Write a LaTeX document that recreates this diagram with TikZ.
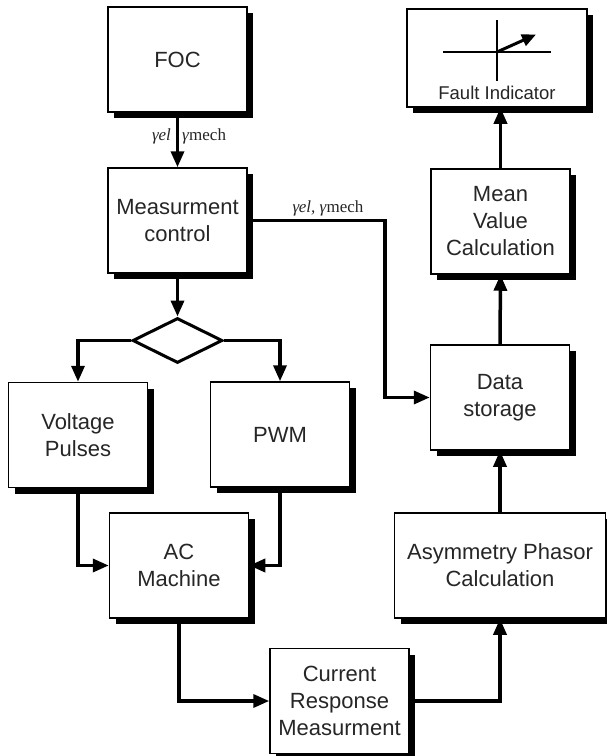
\documentclass[tikz,border=0pt]{standalone}
\usepackage{fontspec}
\setmainfont{Liberation Sans}
\newfontfamily\greekserif{Liberation Serif}
\usetikzlibrary{arrows.meta,shapes.geometric,shadows}

\tikzset{
  block/.style={draw=black, line width=1.5pt, fill=white, rectangle,
    minimum width=139pt, minimum height=105pt, inner sep=2pt,
    align=center, text=black!85, font=\fontsize{22}{27}\selectfont,
    general shadow={fill=black, shadow xshift=6pt, shadow yshift=-6pt}},
  flow/.style={line width=3.5pt, -{Triangle[length=16pt,width=13pt]}},
  decision/.style={draw=black, line width=3pt, shape=diamond, fill=white,
    minimum width=90pt, minimum height=45pt, inner sep=0pt},
  sig/.style={font=\greekserif\fontsize{17}{19}\selectfont, text=black!85, inner sep=0pt}
}
\newcommand{\gel}{{\itshape γ\kern-0.3pt el}}
\newcommand{\gmech}{{\itshape γ}\kern0.3pt mech}

\begin{document}
\begin{tikzpicture}[x=1pt, y=-1pt, line join=miter]
  \useasboundingbox (0,0) rectangle (607,756);

  % processing blocks
  \node[block] (foc) at (177.5,59.5) {FOC};
  \node[block] (mc)  at (177.5,220.5) {Measurment\\control};
  \node[decision] (dec) at (177.5,340.5) {};
  \node[block] (vp)  at (78,435) {Voltage\\Pulses};
  \node[block] (pwm) at (280,434.5) {PWM};
  \node[block] (ac)  at (179,565.5) {AC\\Machine};
  \node[block] (cr)  at (339.5,701) {Current\\Response\\Measurment};
  \node[block, minimum width=211pt] (ap) at (500,565.5) {Asymmetry Phasor\\Calculation};
  \node[block] (ds)  at (500,397.5) {Data\\storage};
  \node[block] (mv)  at (500.5,221.5) {Mean\\Value\\Calculation};
  \node[block, minimum width=180pt, minimum height=98pt] (fi) at (497,58) {};

  % fault indicator pictogram
  \draw[line width=1.3pt] (443,52) -- (551,52);
  \draw[line width=1.3pt] (497,20) -- (497,81);
  \draw[line width=3pt, -{Triangle[length=14pt,width=12pt]}] (497,52) -- (536,34.5);
  \node[text=black!85, font=\fontsize{18.5}{20}\selectfont, inner sep=0pt]
    (filabel) at (497,93) {Fault Indicator};

  % signal flow
  \coordinate (bend) at (385,397.5);
  \draw[flow] (foc.south) -- (mc.north);
  \node[sig, anchor=east] (lel) at (171,136) {\gel};
  \node[sig, anchor=west] (lmech) at (182,136) {\gmech};

  \draw[flow] (mc.east) -| (bend) -- (ds.west);
  \node[sig] (lboth) at (328,208) {{\itshape γ\kern-0.3pt el,} \gmech};

  \draw[flow] (mc.south) -- (dec.north);
  \draw[flow] (dec.west) -| (vp.north);
  \draw[flow] (dec.east) -| (pwm.north);
  \draw[flow] (vp.south) |- (ac.west);
  \draw[flow] (pwm.south) |- (ac.east);
  \draw[flow] (ac.south) |- (cr.west);
  \draw[flow] (cr.east) -| (ap.south);
  \draw[flow] (ap.north) -- (ds.south);
  \draw[flow] (ds.north) -- (mv.south);
  \draw[flow] (mv.north) -- (mv.north |- fi.south);
\end{tikzpicture}
\end{document}
